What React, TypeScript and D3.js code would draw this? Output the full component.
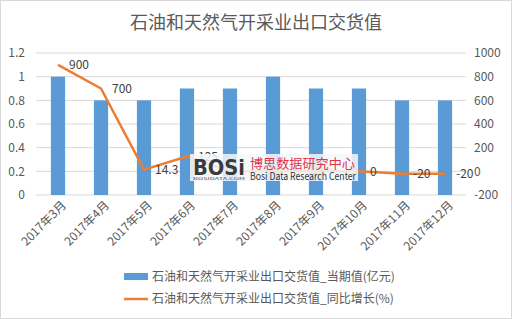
import React from "react";
import * as d3 from "d3";

const categories = ["2017年3月", "2017年4月", "2017年5月", "2017年6月", "2017年7月", "2017年8月", "2017年9月", "2017年10月", "2017年11月", "2017年12月"];
const currentValues = [1, 0.8, 0.8, 0.9, 0.9, 1, 0.9, 0.9, 0.8, 0.8];
const growthValues = [900, 700, 14.3, 125, 0, 0, 0, 0, -20, -20];
const growthLabels = ["900", "700", "14.3", "125", "", "", "", "0", "-20", "-20"];
const leftTicks = [0, 0.2, 0.4, 0.6, 0.8, 1, 1.2];
const rightTicks = [-200, 0, 200, 400, 600, 800, 1000];
const title = "石油和天然气开采业出口交货值";
const legendBar = "石油和天然气开采业出口交货值_当期值(亿元)";
const legendLine = "石油和天然气开采业出口交货值_同比增长(%)";

const W = 512, H = 319;
const FONT = "'Noto Sans CJK SC', 'Microsoft YaHei', sans-serif";
const TXT = "#595959";

export default function App() {
  const x = d3.scaleBand<string>().domain(categories).range([36.5, 466.5]).paddingInner(0.67).paddingOuter(0.335);
  const yL = d3.scaleLinear().domain([0, 1.2]).range([195, 53]);
  const yR = d3.scaleLinear().domain([-200, 1000]).range([195, 53]);
  const cx = (c: string) => (x(c) as number) + x.bandwidth() / 2;
  const line = d3.line<number>().x((_, i) => cx(categories[i])).y((d) => yR(d));

  return (
    <svg width={W} height={H} style={{ position: "absolute", left: 0, top: 0, background: "#fff" }} fontFamily={FONT}>
      <rect x={0.5} y={0.5} width={W - 1} height={H - 1} fill="#fff" stroke="#d9d9d9" />
      <text x={256} y={29} textAnchor="middle" fontSize={18} fill={TXT}>{title}</text>
      {leftTicks.map((t) => (
        <g key={t}>
          <line x1={36} x2={466} y1={yL(t)} y2={yL(t)} stroke="#d9d9d9" strokeWidth={1} />
          <text x={25} y={yL(t)} dy="0.35em" textAnchor="end" fontSize={12} fill={TXT}>{t}</text>
        </g>
      ))}
      {rightTicks.map((t) => (
        <text key={t} x={474} y={yR(t)} dy="0.35em" textAnchor="start" fontSize={12} fill={TXT}>{t}</text>
      ))}
      {categories.map((c, i) => (
        <rect key={c} x={x(c)} y={yL(currentValues[i])} width={x.bandwidth()} height={yL(0) - yL(currentValues[i])} fill="#5B9BD5" />
      ))}
      {categories.map((c) => (
        <text key={c} transform={`translate(${cx(c) + 6},${203}) rotate(-45)`} textAnchor="end" fontSize={12} fill={TXT} dy="0.35em">{c}</text>
      ))}
      <path d={line(growthValues) || ""} fill="none" stroke="#ED7D31" strokeWidth={2.5} strokeLinejoin="round" />
      {growthValues.map((v, i) => (
        <text key={i} x={cx(categories[i]) + 11} y={yR(v)} dy="0.35em" fontSize={12} fill="#404040">{growthLabels[i]}</text>
      ))}
      <g>
        <rect x={190} y={154} width={168} height={27} fill="#f4f8fb" opacity={0.85} />
        <text x={193} y={175} fontSize={22} fontWeight="bold" fill="#3a3a3a" fontFamily="'DejaVu Sans', sans-serif" textLength={52} lengthAdjust="spacingAndGlyphs">BOSi</text>
        <text x={193} y={180} fontSize={4} fill="#555" textLength={52} lengthAdjust="spacingAndGlyphs">BOSIDATA.COM</text>
        <text x={250} y={168} fontSize={13} fill="#E0364B" textLength={105} lengthAdjust="spacingAndGlyphs">博思数据研究中心</text>
        <text x={250} y={179.5} fontSize={10} fill="#333" textLength={106} lengthAdjust="spacingAndGlyphs">Bosi Data Research Center</text>
      </g>
      <rect x={124} y={273} width={24} height={7} fill="#5B9BD5" />
      <text x={152} y={277} dy="0.35em" fontSize={12} fill={TXT}>{legendBar}</text>
      <line x1={124} x2={148} y1={299} y2={299} stroke="#ED7D31" strokeWidth={2.5} />
      <text x={152} y={299} dy="0.35em" fontSize={12} fill={TXT}>{legendLine}</text>
    </svg>
  );
}
